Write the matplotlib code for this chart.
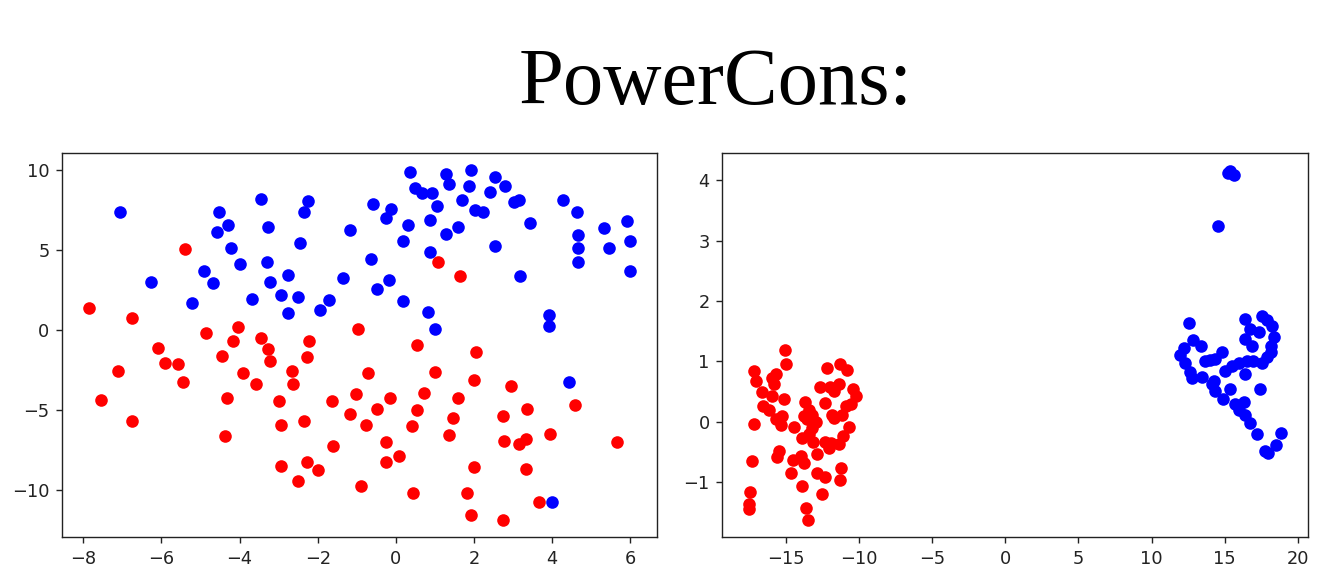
import matplotlib
matplotlib.use("Agg")
import matplotlib.pyplot as plt

# Left panel points (x, y)
left_blue_x = [-7.07, -3.46, -2.26, -2.35, -4.53, -4.3, -4.58, -3.26, -1.17, -2.45,
               -4.21, -3.99, -3.31, -4.9, -4.67, -6.26, -3.22, -2.77, -1.36, -5.21,
               -3.67, -2.95, -2.5, -1.72, -1.95, -2.77, 0.37, 1.28, 1.92, 2.54,
               2.78, 1.37, 1.86, 2.41, 0.5, 0.68, 0.92, 1.05, 1.68, 2.03,
               2.24, 3.03, 3.15, 3.42, 4.27, 4.63, 4.67, 4.67, 4.67, 5.32,
               5.91, 5.99, 5.44, 5.99, -0.59, -0.13, -0.26, 0.32, 0.86, 1.6,
               1.27, 0.19, 0.86, 2.54, -0.63, -0.17, -0.49, 3.18, 0.19, 0.82,
               1.0, 3.91, 3.91, 4.44, 3.99]
left_blue_y = [7.36, 8.23, 8.1, 7.36, 7.36, 6.6, 6.14, 6.48, 6.25, 5.48,
               5.14, 4.14, 4.27, 3.73, 2.94, 3.04, 3.04, 3.48, 3.29, 1.73,
               1.96, 2.19, 2.08, 1.86, 1.29, 1.06, 9.9, 9.79, 10.0, 9.58,
               9.0, 9.13, 9.0, 8.67, 8.92, 8.58, 8.6, 7.79, 8.13, 7.5,
               7.36, 8.02, 8.17, 6.71, 8.13, 7.36, 5.94, 5.14, 4.27, 6.38,
               6.81, 5.6, 5.14, 3.71, 7.92, 7.58, 7.02, 6.58, 6.92, 6.48,
               6.02, 5.6, 4.92, 5.25, 4.48, 3.17, 2.6, 3.38, 1.83, 1.17,
               0.06, 0.98, 0.27, -3.23, -10.73]

left_red_x = [-5.4, -7.85, -6.76, -4.85, -4.03, -4.18, -3.46, -2.22, -0.98, -6.08,
              -3.27, -3.22, -4.45, -5.9, -5.58, -7.12, -5.44, -3.9, -3.58, -2.67,
              -2.63, -2.27, -7.54, -6.76, -4.31, -4.36, -3.0, -2.95, -2.36, -1.63,
              -1.17, -1.01, -1.6, -2.95, -2.27, -1.99, -2.5, 1.09, 1.63,
              0.55, 2.04, -0.72, 1.01, 1.99, 2.95, -0.14, 0.73, 1.59, -0.49,
              0.55, 1.46, 2.73, 3.36, 4.59, -0.77, 0.41, 1.37, -0.26, 2.76,
              3.14, 3.33, 3.94, 5.67, -0.26, 0.09, 1.99, 3.32, -0.88, 0.45,
              1.81, 1.91, 2.73, 3.67]
left_red_y = [5.06, 1.42, 0.75, -0.15, 0.19, -0.69, -0.48, -0.69, 0.08, -1.1,
              -1.17, -1.92, -1.58, -2.02, -2.13, -2.56, -3.23, -2.67, -3.33, -2.56,
              -3.33, -1.69, -4.33, -5.67, -4.23, -6.64, -4.44, -5.9, -5.67, -4.44,
              -5.21, -4.0, -7.21, -8.5, -8.21, -8.75, -9.44, 4.25, 3.38,
              -0.9, -1.35, -2.69, -2.58, -3.13, -3.46, -4.23, -3.9, -4.23, -4.9,
              -5.0, -5.46, -5.33, -4.9, -4.69, -5.9, -6.0, -6.56, -7.0, -6.9,
              -7.1, -6.77, -6.46, -7.0, -8.23, -7.88, -8.54, -8.67, -9.74, -10.19,
              -10.19, -11.52, -11.85, -10.75]

# Right panel points
right_red_x = [-17.17, -17.05, -16.6, -16.55, -16.14, -15.91, -15.68, -15.8, -15.91, -15.11,
               -15.05, -14.95, -17.17, -15.68, -15.23, -15.34, -14.43, -17.28, -15.45, -15.62,
               -17.4, -17.51, -17.51, -14.66, -14.5, -13.93, -13.75, -13.9, -13.63, -13.47,
               -13.7, -13.4, -13.75, -13.52, -13.17, -12.95, -13.17, -13.4, -13.86, -13.13,
               -12.88, -12.83, -12.3, -12.49, -12.19, -12.65, -12.3, -11.97, -11.8, -11.69,
               -11.28, -10.82, -11.35, -10.43, -10.21, -10.55, -10.86, -11.12, -11.69, -10.66,
               -11.07, -11.35, -11.92, -12.33, -12.03, -11.19, -11.28]
right_red_y = [0.84, 0.67, 0.50, 0.26, 0.20, 0.73, 0.80, 0.62, 0.43, 0.37,
               1.19, 0.96, -0.04, 0.04, 0.09, -0.06, -0.08, -0.65, -0.49, -0.58,
               -1.17, -1.37, -1.45, -0.85, -0.63, -0.56, -0.69, -1.06, -1.43, -1.62,
               0.33, 0.20, 0.09, 0.04, 0.11, 0.0, -0.11, -0.2, -0.26, -0.33,
               -0.54, -0.84, -0.91, -1.2, 0.90, 0.58, 0.31, 0.58, 0.12, 0.51,
               0.96, 0.86, 0.62, 0.55, 0.43, 0.29, 0.27, 0.12, 0.06, -0.08,
               -0.24, -0.37, -0.35, -0.33, -0.44, -0.76, -0.97]

right_blue_x = [15.37, 15.64, 15.25, 14.57, 12.56, 16.35, 17.53, 17.88, 18.22, 17.35,
                16.74, 18.33, 16.39, 16.85, 18.18, 18.18, 17.88, 17.53, 16.96, 16.51,
                15.94, 15.48, 15.02, 14.79, 14.34, 13.99, 13.65, 12.86, 13.38, 12.24,
                11.94, 12.28, 12.62, 12.74, 13.42, 16.39, 14.29, 14.11, 14.34, 15.37,
                14.91, 17.42, 15.71, 16.28, 15.98, 16.39, 16.74, 17.19, 18.86, 18.49,
                17.76, 17.95]
right_blue_y = [4.16, 4.09, 4.13, 3.25, 1.64, 1.70, 1.75, 1.68, 1.58, 1.49,
                1.54, 1.40, 1.37, 1.26, 1.26, 1.15, 1.07, 0.98, 1.01, 1.01,
                0.98, 0.93, 0.84, 1.15, 1.04, 1.03, 1.01, 1.35, 1.26, 1.23,
                1.11, 0.98, 0.82, 0.72, 0.75, 0.79, 0.67, 0.62, 0.51, 0.55,
                0.37, 0.55, 0.29, 0.33, 0.20, 0.11, -0.02, -0.21, -0.18, -0.38,
                -0.48, -0.52]

plt.rcParams["font.size"] = 12.8
plt.rcParams["axes.linewidth"] = 1.0
plt.rcParams["xtick.major.size"] = 4.5
plt.rcParams["ytick.major.size"] = 4.5
plt.rcParams["xtick.major.width"] = 1.0
plt.rcParams["ytick.major.width"] = 1.0
plt.rcParams["xtick.major.pad"] = 4.5
plt.rcParams["ytick.major.pad"] = 4.5
plt.rcParams["xtick.color"] = "#222222"
plt.rcParams["ytick.color"] = "#222222"
plt.rcParams["axes.edgecolor"] = "#222222"

fig = plt.figure(figsize=(13.17, 5.79), dpi=100)

fig.text(0.5435, 0.8204, "PowerCons:", family="Liberation Serif", fontsize=58,
         ha="center", va="baseline", color="black")

# Left: scattered embedding
ax1 = fig.add_axes([0.0471, 0.072, 0.4518, 0.6642])
ax1.scatter(left_red_x, left_red_y, s=82, color="red", linewidths=0)
ax1.scatter(left_blue_x, left_blue_y, s=82, color="blue", linewidths=0)
ax1.set_xticks([-8, -6, -4, -2, 0, 2, 4, 6])
ax1.set_yticks([-10, -5, 0, 5, 10])

# Right: two separated clusters
ax2 = fig.add_axes([0.5484, 0.0725, 0.4447, 0.6627])
ax2.scatter(right_red_x, right_red_y, s=82, color="red", linewidths=0)
ax2.scatter(right_blue_x, right_blue_y, s=82, color="blue", linewidths=0)
ax2.set_xticks([-15, -10, -5, 0, 5, 10, 15, 20])
ax2.set_yticks([-1, 0, 1, 2, 3, 4])

fig.savefig("out.png", dpi=100)
